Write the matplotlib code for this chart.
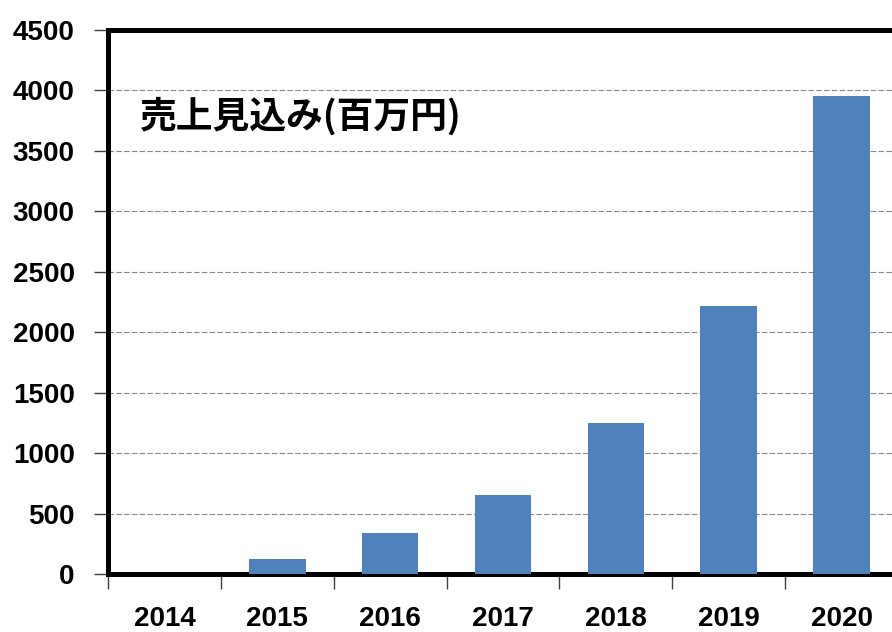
import numpy as np
import matplotlib.pyplot as plt

# 年度ごとの売上見込み（百万円）
years = ['2014', '2015', '2016', '2017', '2018', '2019', '2020']
sales = [0, 120, 340, 650, 1250, 2220, 3950]
y_ticks = [0, 500, 1000, 1500, 2000, 2500, 3000, 3500, 4000, 4500]

fig = plt.figure(figsize=(8.92, 6.32), dpi=100)
ax = fig.add_axes([108 / 892, 58 / 632, 790 / 892, 544 / 632])

x = np.arange(len(years))
ax.bar(x, sales, width=0.5, color='#4f81bd', zorder=3)

ax.set_xlim(-0.5, len(years) - 0.5)
ax.set_ylim(0, 4500)

# 目盛り: 数値は年の中心、線は区切り位置
ax.set_yticks(y_ticks)
ax.set_yticklabels([str(v) for v in y_ticks])
ax.set_xticks(x)
ax.set_xticklabels(years)
ax.set_xticks(np.arange(len(years) + 1) - 0.5, minor=True)

for lab in ax.get_xticklabels() + ax.get_yticklabels():
    lab.set_fontfamily('Liberation Sans')
    lab.set_fontweight('bold')
    lab.set_fontsize(20)

ax.tick_params(axis='y', which='major', length=10, width=1, color='#404040',
               direction='out', pad=14)
ax.tick_params(axis='x', which='major', length=0, pad=23)
ax.tick_params(axis='x', which='minor', length=11, width=1, color='#404040',
               direction='out')

# 点線の補助線
ax.yaxis.grid(True, linestyle=(0, (5, 2)), color='#888888', linewidth=0.8, zorder=1)
ax.set_axisbelow(True)

for side in ['top', 'left', 'bottom']:
    ax.spines[side].set_linewidth(3.6)
    ax.spines[side].set_color('black')
ax.spines['right'].set_visible(False)

ax.text(0.0405, 0.842, '売上見込み(百万円)', transform=ax.transAxes,
        ha='left', va='center', fontsize=26.5, fontweight='bold',
        family=['Noto Sans CJK JP', 'DejaVu Sans'])

fig.savefig('out.png', dpi=100)
